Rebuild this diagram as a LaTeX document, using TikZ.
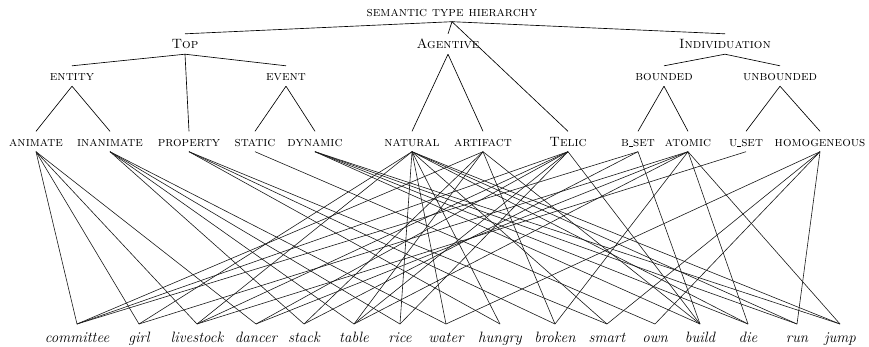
\documentclass[tikz,border=0pt]{standalone}
\usepackage{fontspec}
\begin{document}
\begin{tikzpicture}[x=1pt,y=-1pt]
\tikzset{
  sc/.style={font=\fontsize{13.5}{14}\selectfont\scshape, inner xsep=0pt, text height=9pt, text depth=0pt, inner ysep=5.5pt, anchor=base},
  word/.style={font=\fontsize{15}{16}\selectfont\itshape, inner xsep=0pt, text height=11pt, text depth=4pt, inner ysep=7pt, anchor=north},
  tree/.style={line width=0.65pt, black},
  link/.style={line width=0.6pt, black!90},
}
\newcommand{\usc}{\rule[-0.6pt]{4pt}{0.5pt}}
\useasboundingbox (0,0) rectangle (869,346);
% hierarchy
\node[sc] (root) at (452,16) {semantic type hierarchy};
\node[sc] (top) at (185,48.5) {Top};
\node[sc] (agentive) at (448,48.5) {Agentive};
\node[sc] (individ) at (725,48.5) {Individuation};
\node[sc] (entity) at (72,80.5) {entity};
\node[sc] (event) at (286,80.5) {event};
\node[sc] (bounded) at (664,80.5) {bounded};
\node[sc] (unbounded) at (780,80.5) {unbounded};
\node[sc] (animate) at (36,146) {animate};
\node[sc] (inanimate) at (110,146) {inanimate};
\node[sc] (property) at (189,146) {property};
\node[sc] (static) at (255,146) {static};
\node[sc] (dynamic) at (315,146) {dynamic};
\node[sc] (natural) at (412,146) {natural};
\node[sc] (artifact) at (483,146) {artifact};
\node[sc] (telic) at (568,146) {Telic};
\node[sc] (bset) at (638,146) {b\usc set};
\node[sc] (atomic) at (688,146) {atomic};
\node[sc] (uset) at (746,146) {u\usc set};
\node[sc] (homog) at (820,146) {homogeneous};
% words
\node[word] (committee) at (77,324) {committee};
\node[word] (girl) at (139,324) {girl};
\node[word] (livestock) at (197,324) {livestock};
\node[word] (dancer) at (256,324) {dancer};
\node[word] (stack) at (304,324) {stack};
\node[word] (table) at (354,324) {table};
\node[word] (rice) at (400,324) {rice};
\node[word] (water) at (446,324) {water};
\node[word] (hungry) at (500,324) {hungry};
\node[word] (broken) at (555,324) {broken};
\node[word] (smart) at (607,324) {smart};
\node[word] (own) at (655,324) {own};
\node[word] (build) at (700,324) {build};
\node[word] (die) at (748,324) {die};
\node[word] (run) at (797,324) {run};
\node[word] (jump) at (840,324) {jump};
% tree edges
\foreach \a/\b in {root/top,root/agentive,root/individ,root/telic,
  top/entity,top/event,top/property,entity/animate,entity/inanimate,
  event/static,event/dynamic,agentive/natural,agentive/artifact,
  individ/bounded,individ/unbounded,bounded/bset,bounded/atomic,
  unbounded/uset,unbounded/homog}
  \draw[tree] (\a.south) -- (\b.north);
% links
\foreach \a/\b in {animate/committee,animate/girl,animate/livestock,animate/dancer,
  inanimate/stack,inanimate/table,inanimate/rice,inanimate/water,
  property/hungry,property/broken,property/smart,
  static/own,
  dynamic/build,dynamic/die,dynamic/run,dynamic/jump,
  natural/girl,natural/livestock,natural/rice,natural/water,natural/hungry,natural/smart,natural/die,natural/run,natural/jump,
  artifact/committee,artifact/stack,artifact/table,artifact/broken,artifact/build,
  telic/committee,telic/livestock,telic/dancer,telic/table,telic/rice,telic/build,
  bset/committee,bset/stack,bset/build,
  atomic/girl,atomic/dancer,atomic/table,atomic/broken,atomic/die,atomic/jump,
  uset/livestock,
  homog/water,homog/smart,homog/own,homog/run}
  \draw[link] (\a.south) -- (\b.north);
\end{tikzpicture}
\end{document}
